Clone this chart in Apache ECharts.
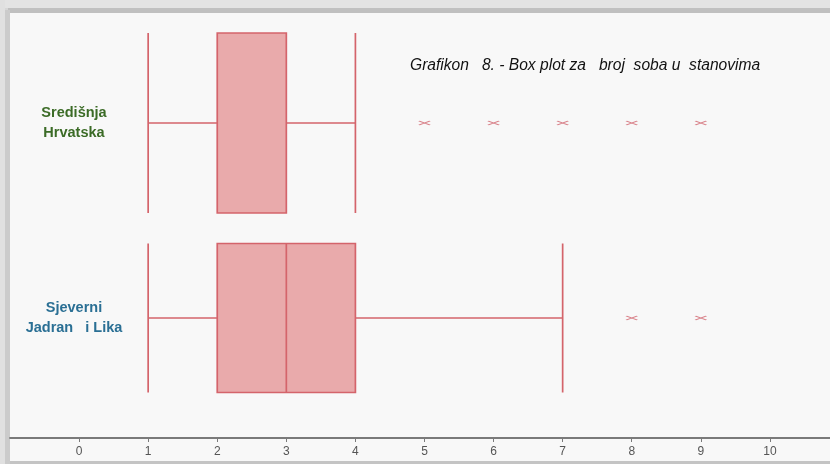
<!DOCTYPE html>
<html>
<head>
<meta charset="utf-8">
<script src="https://cdn.jsdelivr.net/npm/echarts@6/dist/echarts.min.js"></script>
<style>
  html, body { margin: 0; padding: 0; }
  #wrap { position: relative; width: 830px; height: 464px; background: #d6d6d6; overflow: hidden; }
  #top1 { position: absolute; left: 0; top: 0; width: 830px; height: 8px; background: #e3e3e3; }
  #top2 { position: absolute; left: 8px; top: 8px; width: 822px; height: 5px; background: #c0c0c0; }
  #left1 { position: absolute; left: 0; top: 0; width: 5px; height: 464px; background: #e0e0e0; }
  #left2 { position: absolute; left: 5px; top: 10px; width: 5px; height: 454px; background: #cbcbcb; }
  #panel { position: absolute; left: 10px; top: 13px; width: 820px; height: 448px; background: #f8f8f8; }
  #bottom { position: absolute; left: 10px; top: 461px; width: 820px; height: 3px; background: #c4c4c4; }
  #chart { position: absolute; left: 0; top: 0; width: 830px; height: 464px; }
</style>
</head>
<body>
<div id="wrap">
  <div id="top1"></div><div id="left1"></div><div id="top2"></div><div id="left2"></div>
  <div id="panel"></div><div id="bottom"></div>
  <div id="chart"></div>
</div>
<script>
// ---- data ----
const categories = ['Središnja\nHrvatska', 'Sjeverni\nJadran   i Lika'];
const categoryColors = ['#3b6b26', '#2a6f94'];
// [min, Q1, median, Q3, max]
const boxSredisnja = [1, 2, 3, 3, 4];
const boxSjeverni = [1, 2, 3, 4, 7];
const outliersSredisnja = [5, 6, 7, 8, 9];
const outliersSjeverni = [8, 9];
const xTickValues = [0, 1, 2, 3, 4, 5, 6, 7, 8, 9, 10];
const titleText = 'Grafikon   8. - Box plot za   broj  soba u  stanovima';

const boxColor = '#d4646b';
const boxFill = '#e9aaab';

const chart = echarts.init(document.getElementById('chart'), null, { renderer: 'canvas' });

const outlierData = [];
outliersSredisnja.forEach(v => outlierData.push([v, 0]));
outliersSjeverni.forEach(v => outlierData.push([v, 1]));

chart.setOption({
  backgroundColor: 'transparent',
  animation: false,
  title: {
    text: titleText,
    left: 405,
    top: 53,
    textStyle: { fontFamily: 'Liberation Sans', fontStyle: 'italic', fontWeight: 'normal', fontSize: 15.6, color: '#111' }
  },
  grid: { left: 10, right: 0, top: 25.5, bottom: 48.5, containLabel: false },
  xAxis: {
    type: 'value',
    min: -1,
    max: 10.87,
    interval: 1,
    offset: 22.5,
    splitLine: { show: false },
    axisLine: { show: true, lineStyle: { color: '#7a7a7a', width: 1.8 } },
    axisTick: { show: true, length: 4, customValues: xTickValues, lineStyle: { color: '#7a7a7a' } },
    axisLabel: {
      color: '#555',
      fontSize: 12,
      fontFamily: 'Liberation Sans',
      margin: 8,
      customValues: xTickValues
    }
  },
  yAxis: [
    {
      type: 'category',
      data: categories,
      inverse: true,
      axisLine: { show: false },
      axisTick: { show: false },
      splitLine: { show: false },
      axisLabel: {
        inside: true,
        margin: 64,
        align: 'center',
        fontSize: 14.5,
        fontWeight: 'bold',
        lineHeight: 20,
        fontFamily: 'Liberation Sans',
        color: (v, i) => categoryColors[i]
      }
    },
    {
      type: 'category',
      data: categories,
      inverse: true,
      show: false
    }
  ],
  series: [
    {
      type: 'boxplot',
      yAxisIndex: 0,
      boxWidth: [180, 180],
      dimensions: ['cat', 'min', 'Q1', 'median', 'Q3', 'max'],
      encode: { y: 'cat', x: ['min', 'Q1', 'median', 'Q3', 'max'] },
      data: [[0].concat(boxSredisnja)],
      itemStyle: { color: boxFill, borderColor: boxColor, borderWidth: 1.7 },
      emphasis: { disabled: true }
    },
    {
      type: 'boxplot',
      yAxisIndex: 1,
      boxWidth: [149, 149],
      dimensions: ['cat', 'min', 'Q1', 'median', 'Q3', 'max'],
      encode: { y: 'cat', x: ['min', 'Q1', 'median', 'Q3', 'max'] },
      data: [[1].concat(boxSjeverni)],
      itemStyle: { color: boxFill, borderColor: boxColor, borderWidth: 1.7 },
      emphasis: { disabled: true }
    },
    {
      type: 'scatter',
      yAxisIndex: 0,
      symbol: 'path://M0,0L12,5M0,5L12,0',
      symbolSize: [11, 4],
      itemStyle: { color: 'none', borderColor: '#d0606a', borderWidth: 1.3 },
      data: outlierData,
      emphasis: { disabled: true }
    }
  ]
});
</script>
</body>
</html>
